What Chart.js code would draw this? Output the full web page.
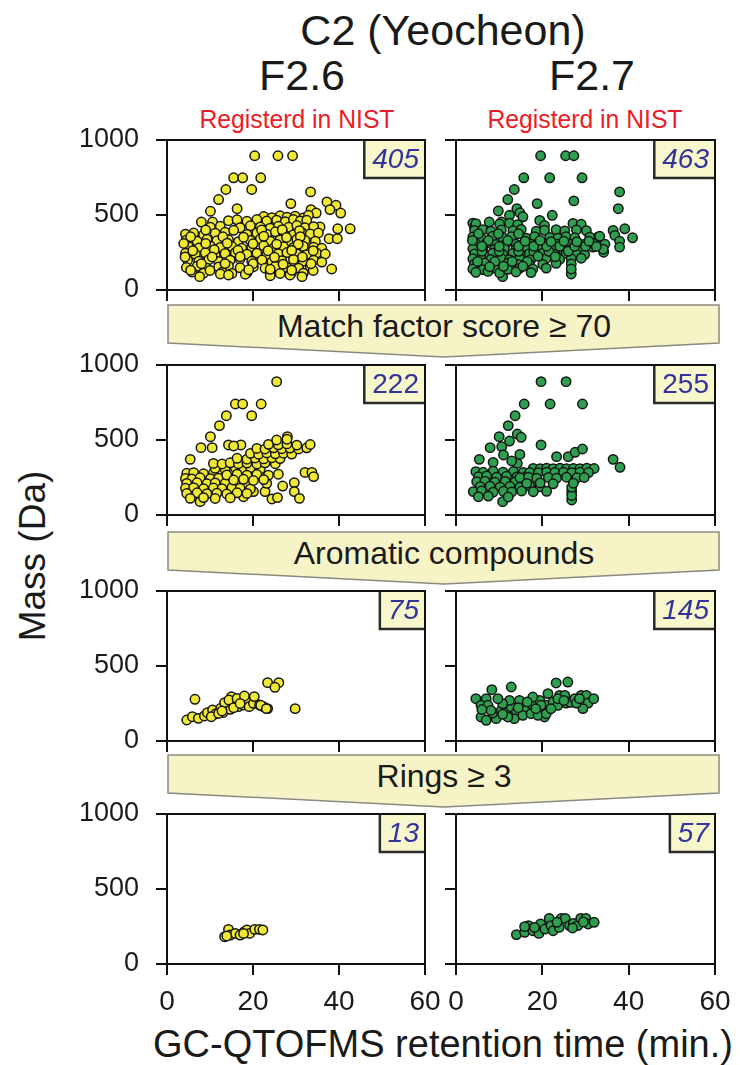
<!DOCTYPE html>
<html lang="en">
<head>
<meta charset="UTF-8">
<title>C2 (Yeocheon)</title>
<style>
body { margin:0; width:740px; height:1065px; background:#fff; position:relative; overflow:hidden;
       font-family:"Liberation Sans", Arial, sans-serif; color:#1a1a1a; }
.txt { position:absolute; white-space:nowrap; line-height:1; transform:translateX(-50%); }
.red { color:#ec1c24; font-size:26px; transform:translateX(-50%) scaleX(0.95); }
canvas { position:absolute; }
</style>
</head>
<body>
<div class="txt" style="left:443px; top:9px; font-size:43px;">C2 (Yeocheon)</div>
<div class="txt" style="left:302px; top:54px; font-size:43px;">F2.6</div>
<div class="txt" style="left:592px; top:54px; font-size:43px;">F2.7</div>
<div class="txt red" style="left:297px; top:106px;">Registerd in NIST</div>
<div class="txt red" style="left:585px; top:106px;">Registerd in NIST</div>
<div class="txt" style="left:32px; top:556px; font-size:37px; transform:translate(-50%,-50%) rotate(-90deg);">Mass (Da)</div>
<div class="txt" style="left:443px; top:1025px; font-size:38px;">GC-QTOFMS retention time (min.)</div>
<svg id="banners" width="740" height="1065" style="position:absolute;left:0;top:0"></svg>

<script src="https://cdn.jsdelivr.net/npm/chart.js"></script>
<script>
// [retention time (min), mass (Da)]
const f26Nist = [
  [20.4,895],[25.8,895],[29.2,895],[15.5,748],[17.6,748],[21.8,748],[13.7,670],[19.7,670],[33.4,654],
  [12.0,603],[10.1,525],[16.3,542],[28.8,576],[8.0,453],[10.6,453],[37.2,587],[39.3,565],[37.9,536],
  [40.4,513],[39.7,408],[42.6,408],[35.6,420],[37.7,342],[39.6,342],[38.3,140],[33.5,536],[34.7,513],
  [22.5,490],[24.4,482],[26.3,495],[27.9,485],[29.8,492],[31.7,480],[32.9,498],
  [14.3,462],[16.3,468],[18.6,458],[20.9,470],[23.2,460],[25.5,466],[27.5,455],[29.4,470],[31.0,460],[32.5,465],
  [10.1,418],[12.4,425],[17.0,415],[19.4,428],[21.7,420],[24.0,412],[25.9,425],[28.3,418],[30.2,430],[32.1,415],[34.1,422],
  [4.3,372],[6.2,380],[8.5,368],[11.2,378],[13.5,385],[18.6,370],[20.9,380],[23.2,372],[25.2,388],[27.1,375],
  [29.4,368],[31.4,382],[33.3,374],[35.2,380],
  [4.5,332],[7.0,325],[9.3,338],[11.6,328],[14.3,335],[16.6,322],[19.4,330],[21.7,340],[24.0,326],[26.3,334],
  [28.3,322],[30.2,338],[32.1,330],[34.5,325],
  [5.0,288],[7.4,280],[10.1,292],[12.4,284],[15.1,290],[17.4,278],[19.7,286],[22.5,295],[24.8,280],[27.1,288],
  [29.4,282],[31.7,292],[34.1,285],[36.0,278],
  [4.3,245],[6.6,238],[8.9,248],[11.2,236],[13.5,244],[15.9,250],[18.6,238],[20.9,246],[23.2,235],[25.9,242],
  [27.9,250],[30.2,240],[32.5,236],[34.8,246],[36.8,240],
  [4.8,198],[7.4,192],[9.7,202],[12.0,190],[14.7,198],[17.0,205],[19.7,192],[22.1,200],[24.4,188],[26.7,196],
  [29.4,204],[31.7,192],[34.1,198],[36.0,186],
  [4.5,150],[7.0,158],[9.3,146],[12.0,154],[14.3,160],[17.0,148],[20.1,155],[22.8,145],[25.2,158],[27.9,150],
  [30.6,146],[33.3,156],
  [5.8,120],[8.5,112],[12.8,118],[15.1,110],[18.6,115],[24.0,122],[26.3,110],[29.0,118],[31.7,112],
  [7.6,89],[12.4,107],[14.3,100],[18.2,105],[24.0,95],[28.6,100],[31.4,89],[34.0,130],
  [15.5,398],[22.0,400],[26.8,402],[30.8,396],[9.0,400],[5.5,355],[13.0,355],[17.8,352],[22.5,358],[27.8,350],
  [31.0,356],[20.0,308],[25.5,306],[9.0,310],[3.9,310],[14.0,312],[30.5,305],[16.5,265],[23.5,262],[29.0,264],
  [6.0,262],[11.0,268],[34.0,262],[10.5,220],[17.0,222],[25.0,218],[31.5,220],[4.2,220],[20.0,175],[27.0,172],
  [8.0,175],[13.5,176],[33.5,175],[5.5,132],[10.0,130],[19.0,135],[24.0,138],[29.0,132]
];
const f27Nist = [
  [19.6,895],[25.4,895],[27.3,895],[15.7,748],[21.7,748],[29.2,748],[13.5,670],[37.9,654],
  [12.0,603],[18.8,576],[27.3,594],[37.6,542],[9.8,527],[14.1,542],[12.4,498],[14.8,515],[15.5,488],
  [7.7,453],[10.5,453],[22.3,498],[19.4,464],[20.5,430],[3.9,446],[4.3,420],[39.1,408],[40.9,348],
  [36.4,397],[36.8,364],[37.9,326],[37.9,286],[34.2,252],[32.9,353],[31.7,286],[26.7,107],[10.8,89],
  [4.6,442],[10.1,440],[12.4,445],[14.3,436],[27.1,444],[29.0,438],
  [4.3,397],[6.2,402],[8.1,392],[10.5,400],[13.2,395],[15.1,404],[18.6,392],[20.5,398],[23.2,402],[25.2,394],
  [27.9,400],[30.2,396],
  [3.9,353],[5.8,348],[8.5,358],[10.8,350],[12.8,355],[16.3,346],[18.2,356],[21.7,350],[23.6,345],[25.5,355],
  [27.5,348],[31.0,352],[33.3,358],
  [4.6,308],[7.0,312],[9.3,304],[11.6,310],[13.9,306],[15.9,310],[17.4,306],[19.0,310],[20.5,306],[22.1,310],
  [23.6,305],[25.2,310],[26.7,306],[28.3,310],[29.8,306],[31.7,310],[34.5,305],
  [3.9,275],[6.2,280],[8.9,270],[11.2,278],[13.9,272],[16.3,280],[19.4,274],[22.5,278],[24.8,270],[27.1,280],
  [29.0,276],[34.1,272],
  [4.3,241],[6.6,236],[8.5,246],[10.8,238],[13.2,244],[15.1,236],[17.0,242],[20.1,246],[22.8,238],[25.5,244],
  [27.9,240],[29.8,236],
  [3.9,208],[5.8,214],[8.1,204],[10.5,210],[12.4,202],[14.7,212],[17.4,206],[20.9,210],[24.0,204],[26.7,208],[29.0,212],
  [4.3,174],[6.6,180],[9.3,170],[12.0,178],[14.3,172],[17.0,176],[20.1,170],[23.2,178],[26.7,174],
  [3.9,141],[6.2,136],[8.9,146],[12.0,138],[14.7,144],[17.8,140],[20.9,146],[26.7,140],
  [4.6,118],[7.4,124],[10.1,114],[13.9,120],[17.4,116],
  [5.2,375],[7.5,330],[9.8,375],[12.0,330],[3.8,330],[14.5,375],[6.0,258],[10.0,258],[14.5,258],[18.0,258],
  [21.5,258],[26.0,258],[5.0,190],[9.0,190],[13.0,190],[16.5,190],[19.0,225],[23.0,222],[7.8,155],[11.0,158],
  [15.5,158],[6.0,292],[10.0,290],[14.5,292],[18.0,292],[21.0,292],[24.0,292],[27.5,292],[30.0,292],[32.5,290],
  [22.0,322],[25.0,325],[28.0,322],[30.8,325],[16.0,325],[19.5,330]
];
const f26Score = [
  [25.5,889],[15.9,740],[17.6,740],[21.9,740],[13.8,662],[19.7,662],[12.2,596],[10.1,522],[7.9,449],[10.5,449],
  [14.3,467],[17.2,467],[15.5,460],[5.4,371],[28.0,522],[32.1,284],[33.7,284],[34.1,256],[29.6,216],[26.9,193],
  [29.6,156],[30.8,111],[24.4,107],[25.7,116],[7.7,89],[17.8,122],[20.1,156],[22.8,156],[23.2,211],
  [4.6,278],[6.2,282],[8.5,275],[10.8,280],[12.8,276],
  [4.3,244],[5.8,240],[7.7,248],[10.1,242],[12.0,246],[14.3,240],
  [4.6,211],[7.0,215],[9.3,208],[11.2,214],[13.5,210],[15.9,206],[18.2,212],
  [4.3,178],[6.2,182],[8.5,175],[10.8,180],[12.8,176],[15.1,182],[17.0,178],[19.4,174],
  [4.6,144],[7.0,148],[9.3,142],[11.6,146],[13.9,140],[16.3,148],[18.6,144],
  [5.4,111],[8.5,116],[11.2,110],[14.7,114],
  [11.2,311],[13.5,305],[15.9,314],[17.8,308],[19.4,315],[21.7,306],
  [10.8,344],[12.8,340],[14.7,348],[16.6,342],[18.6,346],[20.9,340],[22.8,348],[25.2,342],
  [16.3,378],[18.6,372],[20.5,380],[22.5,374],[24.4,382],[26.3,376],
  [19.4,411],[21.3,405],[23.2,414],[25.2,408],[27.1,412],[29.0,406],
  [20.9,444],[22.8,440],[24.8,448],[26.7,442],[28.6,446],[30.6,440],[32.5,448],
  [23.6,471],[25.9,468],[27.9,474],[30.2,466],[33.3,470],[25.5,500],[27.9,505],
  [13.9,267],[16.3,272],[18.6,265],[20.9,270],[23.6,266],[25.9,272],
  [15.5,233],[17.8,238],[20.1,230],[22.5,236]
];
const f27Score = [
  [19.7,889],[25.5,889],[15.8,740],[21.8,740],[29.3,740],[13.7,662],[12.1,596],[10.0,522],[14.2,540],[15.1,518],
  [12.4,493],[7.9,449],[10.6,456],[19.7,467],[5.4,371],[8.6,351],[11.0,400],[14.8,404],[14.2,344],[12.9,360],
  [23.3,389],[26.0,389],[27.6,418],[29.3,440],[36.4,371],[38.0,318],[26.8,156],[26.8,100],[26.8,130],[26.8,185],[10.8,89],
  [4.6,289],[6.3,285],[8.6,292],[10.9,286],[13.3,290],[15.6,284],
  [5.2,256],[7.1,260],[9.4,252],[11.7,258],[14.1,254],[16.4,260],
  [4.8,222],[6.7,226],[9.0,218],[11.4,224],[13.7,220],[16.0,226],
  [5.6,189],[7.9,192],[10.2,186],[12.5,190],[14.8,185],[17.1,192],[19.5,188],
  [4.0,156],[5.9,160],[8.6,152],[11.0,158],[12.9,154],[15.2,160],[17.9,155],[21.0,158],
  [5.2,122],[7.5,126],[12.1,120],
  [17.9,311],[19.5,308],[21.0,312],[22.5,309],[24.1,312],[25.6,308],[27.2,311],[28.7,309],[30.3,312],[32.0,310],
  [17.1,284],[19.1,282],[21.0,286],[22.9,283],[24.9,286],[26.8,282],[28.7,285],[30.7,283],
  [14.8,249],[16.8,252],[18.7,246],[21.4,250],[23.3,246],[25.6,252],[28.0,248],[29.7,250],
  [16.4,211],[19.5,214],[22.5,208],[27.2,212]
];
const f26Arom = [
  [6.5,278],[4.6,140],[5.9,162],[7.3,151],[8.7,167],[9.4,189],[10.6,207],[11.3,180],[12.5,218],[13.0,189],
  [13.9,240],[14.7,211],[15.0,296],[15.8,256],[16.6,229],[17.2,273],[17.7,240],[18.6,262],[19.1,229],[20.1,251],
  [21.5,240],[22.4,229],[23.4,216],[10.3,162],[12.0,184],[13.4,256],[14.4,273],[16.3,284],[20.3,296],[21.8,238],
  [23.1,216],[23.4,389],[26.0,389],[25.1,358],[29.8,216],[18.0,300],[15.5,222],[12.8,200],[17.0,250]
];
const f27Arom = [
  [4.6,282],[7.0,282],[5.8,238],[7.4,238],[5.8,160],[7.0,138],[9.3,149],[8.5,187],[10.5,204],[11.6,187],
  [12.8,227],[14.0,193],[15.1,238],[13.5,149],[12.4,271],[14.7,271],[16.3,209],[17.8,238],[19.4,271],[19.4,209],
  [20.5,160],[20.9,238],[21.3,316],[22.5,260],[23.6,238],[24.0,304],[25.2,304],[25.5,253],[26.5,258],[27.5,282],
  [29.0,304],[30.2,304],[30.6,253],[29.4,216],[31.9,282],[17.8,293],[10.8,249],[9.7,282],[15.5,171],[17.4,182],
  [19.0,171],[20.9,182],[12.0,160],[10.8,178],[8.1,204],[14.4,222],[19.7,238],[23.6,282],[27.9,253],[28.6,282],
  [8.3,342],[12.8,360],[23.2,387],[25.9,393],[6.0,210],[16.5,260],[22.0,215],[25.0,270],[18.5,215]
];
const f26Rings = [
  [13.4,182],[14.3,231],[14.7,193],[15.9,204],[17.0,193],[18.0,216],[18.6,227],[19.2,204],[20.4,231],[21.5,231],
  [22.3,227],[17.8,204],[13.9,187]
];
const f27Rings = [
  [14.0,196],[15.9,211],[16.8,256],[17.8,222],[19.2,204],[19.6,267],[20.6,233],[21.6,304],[22.0,256],[22.5,222],
  [23.9,244],[24.4,304],[25.3,304],[26.3,256],[27.2,271],[28.2,256],[28.9,304],[30.1,304],[30.6,267],[32.0,278],
  [15.9,249],[18.2,244],[23.4,278],[27.0,240],[29.5,280]
];

const panelData = [f26Nist, f27Nist, f26Score, f27Score, f26Arom, f27Arom, f26Rings, f27Rings];
const counts = ['405', '463', '222', '255', '75', '145', '13', '57'];
const countItalic = [true, true, false, false, true, true, true, true];
const stepLabels = ['Match factor score \u2265 70', 'Aromatic compounds', 'Rings \u2265 3'];
const xTicks = [0, 20, 40, 60];
const yTicks = [0, 500, 1000];

const rowTops = [140, 365, 591, 814];
const colLefts = [167, 456];
const colRights = [425, 715];
const bannerTops = [305, 532, 755];
const dotColors = ['#efe834', '#2e9e4f'];

// filter-step arrows between the rows
const svg = document.getElementById('banners');
stepLabels.forEach((label, i) => {
  const t = bannerTops[i], L = 168, R = 719, tip = 444;
  svg.innerHTML +=
    `<polygon points="${L},${t} ${R},${t} ${R},${t + 38} ${tip},${t + 52} ${L},${t + 38}"
       fill="#f6f4c6" stroke="#8a8a80" stroke-width="1.5"/>` +
    `<text x="${tip}" y="${t + 21}" text-anchor="middle" dominant-baseline="central"
       font-family="Liberation Sans, Arial, sans-serif" font-size="32" fill="#1a1a1a">${label}</text>`;
});

// box frame + count label in the top right corner
const frameBox = {
  id: 'frameBox',
  afterDraw(chart, args, opts) {
    const { ctx, chartArea: a } = chart;
    ctx.save();
    ctx.font = (opts.italic ? 'italic ' : '') + '28px "Liberation Sans", Arial';
    const w = ctx.measureText(opts.text).width + 14, h = 38;
    ctx.fillStyle = '#f8f6cb';
    ctx.fillRect(a.right - w, a.top, w, h);
    ctx.strokeStyle = '#2a2a2a';
    ctx.lineWidth = 2.5;
    ctx.beginPath();
    ctx.moveTo(a.right - w, a.top);
    ctx.lineTo(a.right - w, a.top + h);
    ctx.lineTo(a.right, a.top + h);
    ctx.stroke();
    ctx.fillStyle = '#33339c';
    ctx.textAlign = 'right';
    ctx.textBaseline = 'middle';
    ctx.fillText(opts.text, a.right - 6, a.top + h / 2 + 1);
    ctx.strokeStyle = '#111';
    ctx.lineWidth = 2;
    ctx.beginPath();
    ctx.moveTo(a.left, a.top);
    ctx.lineTo(a.right, a.top);
    ctx.lineTo(a.right, a.bottom);
    ctx.stroke();
    ctx.restore();
  }
};

function noPad(s) {
  s.paddingTop = 0; s.paddingBottom = 0; s.paddingLeft = 0; s.paddingRight = 0;
}

panelData.forEach((pts, i) => {
  const row = Math.floor(i / 2), col = i % 2;
  const left = col === 0 ? 0 : 380;
  const width = col === 0 ? 450 : 360;
  const yAxisW = colLefts[col] - left;
  const bottomH = row === 3 ? 70 : 20;
  const height = 12 + 150 + bottomH;

  const cv = document.createElement('canvas');
  cv.width = width;
  cv.height = height;
  cv.style.left = left + 'px';
  cv.style.top = (rowTops[row] - 12) + 'px';
  document.body.appendChild(cv);

  const axisGrid = { display: true, drawOnChartArea: false, drawTicks: true, tickLength: 11, color: '#111', lineWidth: 2 };

  const chart = new Chart(cv, {
    type: 'scatter',
    data: {
      datasets: [{
        data: pts.map(p => ({ x: p[0], y: p[1] })),
        backgroundColor: dotColors[col],
        borderColor: '#141414',
        borderWidth: 1.5,
        pointRadius: 4.7
      }]
    },
    options: {
      responsive: false,
      maintainAspectRatio: false,
      animation: false,
      events: [],
      layout: { autoPadding: false, padding: { top: 12, right: 25, left: 0, bottom: 0 } },
      plugins: {
        legend: { display: false },
        tooltip: { enabled: false },
        frameBox: { text: counts[i], italic: countItalic[i] }
      },
      scales: {
        x: {
          type: 'linear', min: 0, max: 60,
          afterBuildTicks: s => { s.ticks = xTicks.map(v => ({ value: v })); },
          afterFit: s => { s.height = bottomH; noPad(s); },
          grid: axisGrid,
          border: { display: true, color: '#111', width: 2 },
          ticks: { display: row === 3, maxRotation: 0, autoSkip: false, padding: 10,
                   callback: v => String(v),
                   color: '#1a1a1a', font: { family: 'Liberation Sans', size: 28 } }
        },
        y: {
          type: 'linear', min: 0, max: 1000,
          afterBuildTicks: s => { s.ticks = yTicks.map(v => ({ value: v })); },
          afterFit: s => { s.width = yAxisW; noPad(s); },
          grid: axisGrid,
          border: { display: true, color: '#111', width: 2 },
          ticks: { display: col === 0, padding: 17,
                   callback: v => String(v),
                   color: '#1a1a1a', font: { family: 'Liberation Sans', size: 27 } }
        }
      }
    },
    plugins: [frameBox]
  });

  // line the plot area up with the panel box
  let a = chart.chartArea;
  const dw = (colRights[col] - colLefts[col]) - (a.right - a.left);
  const dh = 150 - (a.bottom - a.top);
  if (Math.abs(dw) > 0.5 || Math.abs(dh) > 0.5) {
    chart.resize(width + dw, height + dh);
    a = chart.chartArea;
  }
  cv.style.left = (colLefts[col] - a.left) + 'px';
  cv.style.top = (rowTops[row] - a.top) + 'px';
});
</script>
</body>
</html>
